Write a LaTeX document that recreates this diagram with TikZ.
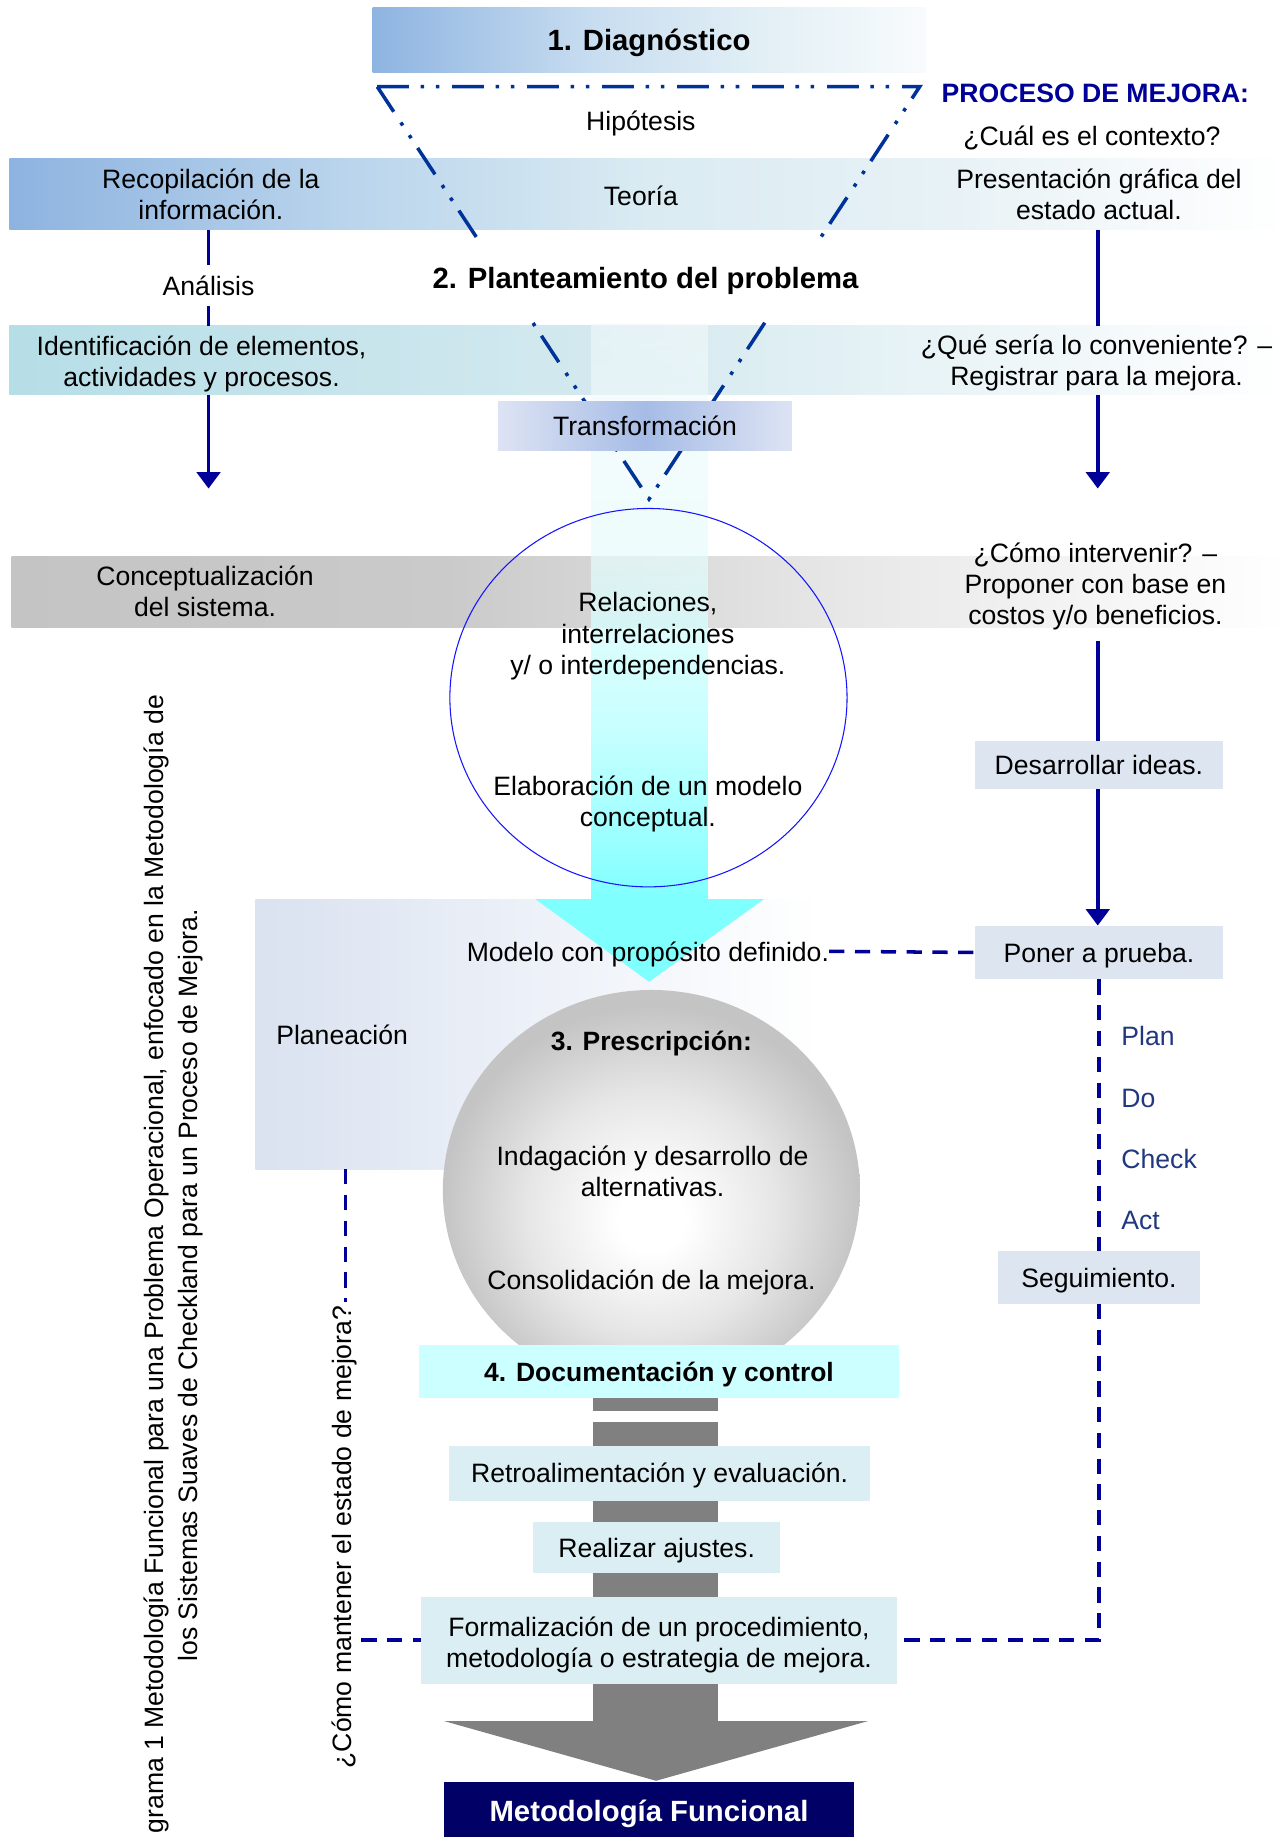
\documentclass[tikz,border=0pt]{standalone}
\usepackage{fontspec}
\setmainfont{Liberation Sans}
\usetikzlibrary{shapes.geometric,arrows.meta,fadings}

% palette
\definecolor{navyln}{RGB}{0,0,153}
\definecolor{triblue}{RGB}{0,51,153}
\definecolor{pdcablue}{RGB}{31,56,128}
\definecolor{ellblue}{RGB}{20,20,255}
\definecolor{boxlav}{RGB}{221,229,240}
\definecolor{boxaqua}{RGB}{218,238,243}
\definecolor{boxcyan}{RGB}{204,255,255}
\definecolor{darknavy}{RGB}{0,0,102}
\definecolor{arrowgrey}{RGB}{128,128,128}
\definecolor{headcyan}{RGB}{128,255,255}
\definecolor{dgA}{RGB}{142,180,225}
\definecolor{dgB}{RGB}{200,221,240}
\definecolor{dgC}{RGB}{226,239,245}
\definecolor{dgD}{RGB}{248,251,253}
\definecolor{rcA}{RGB}{142,179,224}
\definecolor{rcB}{RGB}{185,212,236}
\definecolor{rcC}{RGB}{218,235,242}
\definecolor{rcD}{RGB}{232,242,246}
\definecolor{idA}{RGB}{182,222,231}
\definecolor{idB}{RGB}{214,234,240}
\definecolor{cgA}{RGB}{196,196,196}
\definecolor{cgB}{RGB}{202,202,202}
\definecolor{cgC}{RGB}{232,232,232}
\definecolor{cgD}{RGB}{248,248,248}
\definecolor{plA}{RGB}{218,226,240}
\definecolor{plB}{RGB}{237,241,248}
\definecolor{trA}{RGB}{221,227,243}
\definecolor{trB}{RGB}{166,188,230}
\definecolor{cyA}{RGB}{127,255,255}
\definecolor{cyB}{RGB}{191,255,255}
\definecolor{cyC}{RGB}{230,251,251}
\definecolor{cyD}{RGB}{245,250,251}
\definecolor{sphA}{RGB}{230,230,230}
\definecolor{sphB}{RGB}{196,196,196}

% gradients (the filled area spans 25bp..75bp of each shading)
\pgfdeclarehorizontalshading{diagshade}{100bp}{color(0bp)=(dgA); color(25bp)=(dgA); color(45bp)=(dgB); color(60bp)=(dgC); color(75bp)=(dgD); color(100bp)=(dgD)}
\pgfdeclarehorizontalshading{recopshade}{100bp}{color(0bp)=(rcA); color(25bp)=(rcA); color(38bp)=(rcB); color(50bp)=(rcC); color(62bp)=(rcD); color(75bp)=(white); color(100bp)=(white)}
\pgfdeclarehorizontalshading{identshade}{100bp}{color(0bp)=(idA); color(25bp)=(idA); color(50bp)=(idB); color(75bp)=(white); color(100bp)=(white)}
\pgfdeclarehorizontalshading{conceptshade}{100bp}{color(0bp)=(cgA); color(25bp)=(cgA); color(42bp)=(cgB); color(58bp)=(cgC); color(70bp)=(cgD); color(75bp)=(white); color(100bp)=(white)}
\pgfdeclarehorizontalshading{planshade}{100bp}{color(0bp)=(plA); color(25bp)=(plA); color(50bp)=(plB); color(75bp)=(white); color(100bp)=(white)}
\pgfdeclarehorizontalshading{transshade}{100bp}{color(0bp)=(trA); color(25bp)=(trA); color(50bp)=(trB); color(75bp)=(trA); color(100bp)=(trA)}
\pgfdeclareverticalshading{cyanshade}{100bp}{color(0bp)=(cyA); color(25bp)=(cyA); color(40bp)=(cyB); color(55bp)=(cyC); color(75bp)=(cyD); color(100bp)=(cyD)}
\pgfdeclareradialshading{sphereshade}{\pgfpoint{0bp}{-4bp}}{color(0bp)=(white); color(4bp)=(white); color(15bp)=(sphA); color(25bp)=(sphB); color(50bp)=(sphB)}
% the shaft of the cyan arrow lets the band show through near its top
\tikzfading[name=shaftfade, top color=transparent!45, bottom color=transparent!0]

\begin{document}
\begin{tikzpicture}[x=1pt,y=-1pt,
  every node/.style={font=\fontsize{22.7pt}{26.5pt}\selectfont, inner sep=2pt},
  one/.style={text height=21.6pt, text depth=5pt},
  oneb/.style={text height=23pt, text depth=5pt},
  multi/.style={align=center, yshift=-3pt},
  boldtxt/.style={font=\fontsize{22.6pt}{26.5pt}\selectfont\bfseries},
  bigbold/.style={font=\fontsize{25pt}{29pt}\selectfont\bfseries},
  panel/.style={rectangle, inner sep=0pt, outer sep=0pt},
  navyline/.style={draw=navyln, line width=3pt},
  navyarrow/.style={navyline, -{Triangle[length=14pt,width=20pt]}},
  dashline/.style={draw=navyln, line width=3pt, dash pattern=on 13pt off 9pt},
  tri/.style={draw=triblue, line width=3pt, dash pattern=on 27pt off 10pt on 3pt off 10pt on 3pt off 11pt},
  pdca/.style={one, text=pdcablue, anchor=west}
]
\useasboundingbox (0,0) rectangle (1099,1568);
\clip (0,0) rectangle (1099,1568);

% ---- horizontal bands and background panels
\node[panel, shade, shading=diagshade, minimum width=472pt, minimum height=56pt, bigbold, oneb] (diag) at (554,34) {1. Diagnóstico};
\node[panel, shade, shading=recopshade, minimum width=1091pt, minimum height=61pt] (recop) at (553.5,165.5) {};
\node[panel, shade, shading=identshade, minimum width=1091pt, minimum height=59pt] (ident) at (553.5,307.5) {};
\node[panel, shade, shading=conceptshade, minimum width=1089pt, minimum height=61pt] (concept) at (554.5,505.5) {};
\node[panel, shade, shading=planshade, minimum width=482pt, minimum height=230pt] (plan) at (459,883) {};

% ---- large cyan arrow
\shade[shading=cyanshade, path fading=shaftfade] (505,276) rectangle (604,768);
\fill[headcyan] (457,767.5) -- (652,767.5) -- (554,838) -- cycle;

% ---- inverted triangle
\draw[tri] (322,74) -- (785,74) -- (554,426) -- cycle;

\node[bigbold, oneb, fill=white, minimum height=63pt, inner xsep=3pt] (plant) at (551,237) {2. Planteamiento del problema};
\node[panel, shade, shading=transshade, minimum width=251pt, minimum height=42pt, one] (trans) at (550.5,363.5) {Transformación};

% ---- texts on the bands
\node[one] (hipotesis) at (547,103) {Hipótesis};
\node[align=center] (recoptxt) at (180,166) {Recopilación de la\\información.};
\node[one] (teoria) at (547,167) {Teoría};
\node[align=center] (presenta) at (938,166) {Presentación gráfica del\\estado actual.};
\node[multi] (identtxt) at (172,308) {Identificación de elementos,\\actividades y procesos.};
\node[multi] (conveniente) at (936,306.5) {¿Qué sería lo conveniente? –\\Registrar para la mejora.};
\node[align=center] (concepttxt) at (175,505) {Conceptualización\\del sistema.};
\node[one, font=\fontsize{22.7pt}{26.5pt}\selectfont\bfseries, text=navyln] (proceso) at (935,79) {PROCESO DE MEJORA:};
\node[one] (contexto) at (932,116) {¿Cuál es el contexto?};
\node[multi] (intervenir) at (935,497.5) {¿Cómo intervenir? –\\Proponer con base en\\costos y/o beneficios.};

% ---- conceptual model ellipse
\node[draw=ellblue, line width=0.9pt, ellipse, minimum width=339pt, minimum height=323pt, inner sep=0pt] (relell) at (553.5,595.5) {};
\node[multi] (relaciones) at (553,540) {Relaciones,\\interrelaciones\\y/ o interdependencias.};
\node[multi] (elaboracion) at (553,683.5) {Elaboración de un modelo\\conceptual.};

% ---- left column connectors
\coordinate (lcol) at (178,0);
\coordinate (rcol) at (937,0);
\node[one, inner ysep=4pt] (analisis) at (178,244) {Análisis};
\draw[navyline] (lcol |- recop.south) -- (analisis.north);
\draw[navyline] (analisis.south) -- (lcol |- ident.north);
\coordinate (lend) at (178,417);
\draw[navyarrow] (lcol |- ident.south) -- (lend);

% ---- right column boxes and connectors
\node[panel, one, fill=boxlav, minimum width=212pt, minimum height=41pt] (desarrollar) at (938,653) {Desarrollar ideas.};
\node[panel, one, fill=boxlav, minimum width=212pt, minimum height=46pt] (poner) at (938,813) {Poner a prueba.};
\node[panel, one, fill=boxlav, minimum width=172pt, minimum height=45pt] (seguimiento) at (938,1090.5) {Seguimiento.};
\draw[navyline] (rcol |- recop.south) -- (rcol |- ident.north);
\coordinate (rend) at (937,417);
\draw[navyarrow] (rcol |- ident.south) -- (rend);
\draw[navyline, shorten <=7pt] (rcol |- intervenir.south) -- (rcol |- desarrollar.north);
\draw[navyarrow] (rcol |- desarrollar.south) -- (rcol |- poner.north);

\node[pdca] (pplan) at (955,884) {Plan};
\node[pdca] (pdo) at (955,937) {Do};
\node[pdca] (pcheck) at (955,989) {Check};
\node[pdca] (pact) at (955,1041) {Act};

% ---- planning and prescription
\node[one] (planeacion) at (292,883) {Planeación};
\node[one, inner sep=0pt] (modelo) at (553,812) {Modelo con propósito definido.};
\node[ellipse, shade, shading=sphereshade, minimum width=356pt, minimum height=342pt, inner sep=0pt] (sphere) at (556,1016) {};
\node[boldtxt, one] (prescripcion) at (556,888) {3. Prescripción:};
\node[align=center] (indagacion) at (557,1000) {Indagación y desarrollo de\\alternativas.};
\node[one] (consolidacion) at (556,1092) {Consolidación de la mejora.};

% ---- grey arrow and documentation steps
\fill[arrowgrey] (506,1190) rectangle (613,1204);
\fill[arrowgrey] (506,1214) rectangle (613,1470);
\fill[arrowgrey] (379,1469) -- (741,1469) -- (560,1520) -- cycle;
\node[panel, fill=boxcyan, minimum width=409pt, minimum height=45pt, boldtxt, one] (docum) at (562.5,1170.5) {4. Documentación y control};
\node[panel, one, fill=boxaqua, minimum width=360pt, minimum height=47pt] (retro) at (563,1257.5) {Retroalimentación y evaluación.};
\node[panel, one, fill=boxaqua, minimum width=211pt, minimum height=44pt] (ajustes) at (560.5,1321) {Realizar ajustes.};
\node[panel, fill=boxaqua, minimum width=407pt, minimum height=74pt] (formal) at (562.5,1400) {};
\node[multi] (formaltxt) at (562.5,1401) {Formalización de un procedimiento,\\metodología o estrategia de mejora.};
\node[panel, fill=darknavy, text=white, bigbold, oneb, minimum width=350pt, minimum height=50pt] (metodo) at (554,1546) {Metodología Funcional};

% ---- rotated labels
\node[rotate=90, one, inner sep=3pt] (mantener) at (292,1312) {¿Cómo mantener el estado de mejora?};
\node[rotate=90, one, inner sep=0pt, anchor=west] (captionA) at (131,1565) {grama 1 Metodología Funcional para una Problema Operacional, enfocado en la Metodología de};
\node[rotate=90, one, inner sep=0pt] (captionB) at (160.5,1097) {los Sistemas Suaves de Checkland para un Proceso de Mejora.};

% ---- dashed feedback connectors
\draw[dashline] (modelo.east) -- (poner.west);
\draw[dashline] (poner.south) -- (seguimiento.north);
\draw[dashline] (seguimiento.south) |- (formal.east);
\draw[dashline] ([xshift=3pt]mantener.east |- plan.south) -- ([xshift=3pt]mantener.east);
\draw[dashline] (mantener.south |- formal.west) -- (formal.west);
\end{tikzpicture}
\end{document}
